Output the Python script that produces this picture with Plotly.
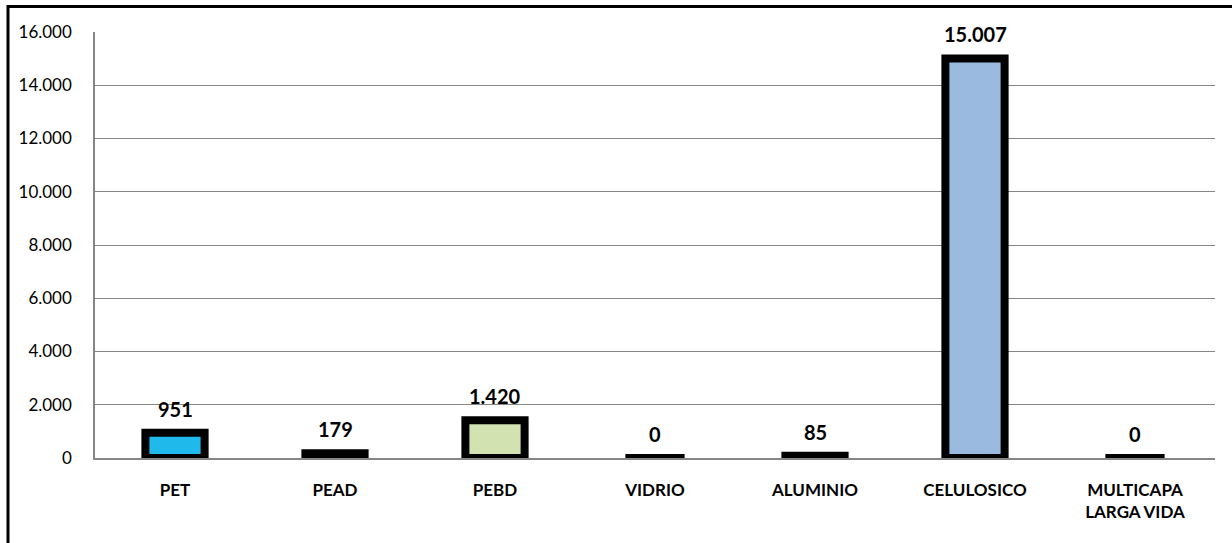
import plotly.graph_objects as go

categories = ["PET", "PEAD", "PEBD", "VIDRIO", "ALUMINIO", "CELULOSICO", "MULTICAPA<br>LARGA VIDA"]
values = [951, 179, 1420, 0, 85, 15007, 0]
bar_colors = ["#1FB9EC", "#4F81BD", "#D2E2B0", "#7F7F7F", "#4F81BD", "#9BBAE0", "#000000"]
y_ticks = [0, 2000, 4000, 6000, 8000, 10000, 12000, 14000, 16000]

W, H = 1232, 543
L, R, T, B = 95, 17, 32, 85
pw, ph = W - L - R, H - T - B


def fmt(v):
    return f"{v:,}".replace(",", ".")


fig = go.Figure()
fig.add_trace(go.Bar(
    x=categories, y=values,
    marker=dict(color=bar_colors, line=dict(color="#000000", width=8)),
    width=0.37,
    cliponaxis=False,
    hoverinfo="skip",
))

annotations = [
    dict(x=c, y=v, xref="x", yref="y", text=fmt(v), showarrow=False,
         yanchor="bottom", yshift=10,
         font=dict(family="Lato", size=20, color="#000000", weight="bold"))
    for c, v in zip(categories, values)
]

fig.update_layout(
    width=W, height=H,
    margin=dict(l=L, r=R, t=T, b=B),
    paper_bgcolor="white", plot_bgcolor="white",
    separators=",.",
    showlegend=False,
    font=dict(family="Lato", color="#000000"),
    xaxis=dict(
        showline=True, linecolor="#868686", linewidth=1.5,
        showgrid=False, ticks="", ticklabelstandoff=16,
        tickfont=dict(family="Lato", size=17, color="#000000", weight="bold"),
    ),
    yaxis=dict(
        range=[0, 16000],
        tickvals=y_ticks,
        tickformat=",",
        showline=True, linecolor="#868686", linewidth=1.5,
        showgrid=True, gridcolor="#868686", gridwidth=1,
        zeroline=False, ticks="", ticklabelstandoff=18,
        tickfont=dict(family="Lato", size=17, color="#000000"),
    ),
    annotations=annotations,
    shapes=[dict(
        type="rect", xref="paper", yref="paper",
        x0=(8 - L) / pw, x1=1.2,
        y0=-0.5, y1=1 + (T - 6.5) / ph,
        line=dict(color="#000000", width=3),
        layer="above",
    )],
)

fig.write_html(
    "out.html",
    config={"displayModeBar": False},
    post_script="document.body.style.margin='0';document.body.style.overflow='hidden';",
)
